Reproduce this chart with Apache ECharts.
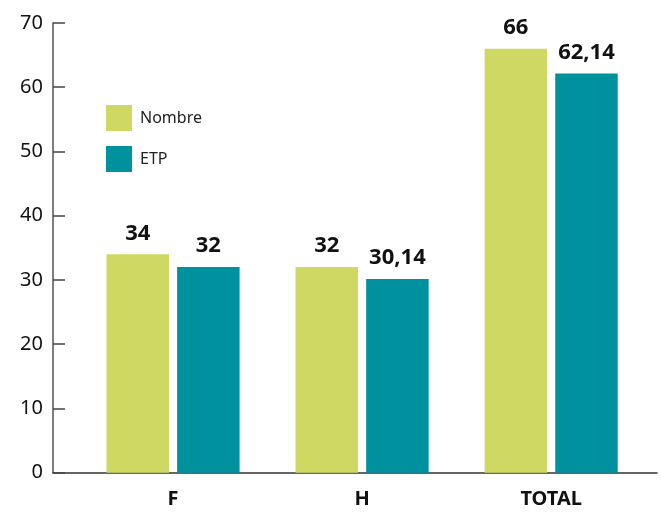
<!DOCTYPE html>
<html>
<head>
<meta charset="utf-8">
<script src="https://cdn.jsdelivr.net/npm/echarts@6/dist/echarts.min.js"></script>
<style>
  html, body { margin: 0; padding: 0; background: #fff; }
  #chart { width: 661px; height: 514px; }
</style>
</head>
<body>
<div id="chart"></div>
<script>
// Headcount (Nombre) and full-time equivalents (ETP) by group
const categories = ['F', 'H', 'TOTAL'];
const nombre = [34, 32, 66];
const etp = [32, 30.14, 62.14];
const yTicks = [0, 10, 20, 30, 40, 50, 60, 70];

const FONT = '"Noto Sans", "Open Sans", sans-serif';
const fmt = v => String(v).replace('.', ',');

const chart = echarts.init(document.getElementById('chart'), null, { renderer: 'canvas' });

const valueLabel = {
  show: true,
  position: 'top',
  distance: 10,
  fontFamily: FONT,
  fontWeight: 'bold',
  fontSize: 22,
  color: '#111',
  formatter: p => fmt(p.value)
};

chart.setOption({
  animation: false,
  backgroundColor: '#fff',
  textStyle: { fontFamily: FONT },
  legend: {
    orient: 'vertical',
    left: 106,
    top: 105,
    padding: 0,
    itemWidth: 26,
    itemHeight: 26,
    itemGap: 15,
    icon: 'rect',
    textStyle: { fontFamily: FONT, fontSize: 16, color: '#222', padding: [0, 0, 0, 3] },
    data: ['Nombre', 'ETP']
  },
  grid: [
    // axis frame
    { left: 53, right: 4, top: 23, bottom: 41.3 },
    // bar area
    { left: 78.5, right: 15.3, top: 23, bottom: 41.3 }
  ],
  xAxis: [
    {
      gridIndex: 0, type: 'value', min: 0, max: 1,
      axisLine: { show: true, lineStyle: { color: '#333', width: 1.5 } },
      axisTick: { show: false }, axisLabel: { show: false }, splitLine: { show: false }
    },
    {
      gridIndex: 1, type: 'category', data: categories,
      axisLine: { show: false }, axisTick: { show: false },
      axisLabel: { fontFamily: FONT, fontWeight: 'bold', fontSize: 20, color: '#111', margin: 17 }
    }
  ],
  yAxis: [
    {
      gridIndex: 0, type: 'value',
      min: yTicks[0], max: yTicks[yTicks.length - 1], interval: 10,
      axisLine: { show: true, lineStyle: { color: '#555', width: 1.5 } },
      axisTick: { show: true, inside: true, length: 12, lineStyle: { color: '#444', width: 1.5 } },
      axisLabel: { fontFamily: FONT, fontSize: 20, color: '#111', margin: 10 },
      splitLine: { show: false }
    },
    {
      gridIndex: 1, type: 'value',
      min: yTicks[0], max: yTicks[yTicks.length - 1], interval: 10,
      show: false
    }
  ],
  series: [
    {
      name: 'Nombre', type: 'bar', xAxisIndex: 1, yAxisIndex: 1,
      data: nombre, barWidth: 62.5, barGap: '13%',
      itemStyle: { color: '#CFD862' },
      label: valueLabel
    },
    {
      name: 'ETP', type: 'bar', xAxisIndex: 1, yAxisIndex: 1,
      data: etp, barWidth: 62.5, barGap: '13%',
      itemStyle: { color: '#00919E' },
      label: valueLabel
    }
  ]
});
</script>
</body>
</html>
